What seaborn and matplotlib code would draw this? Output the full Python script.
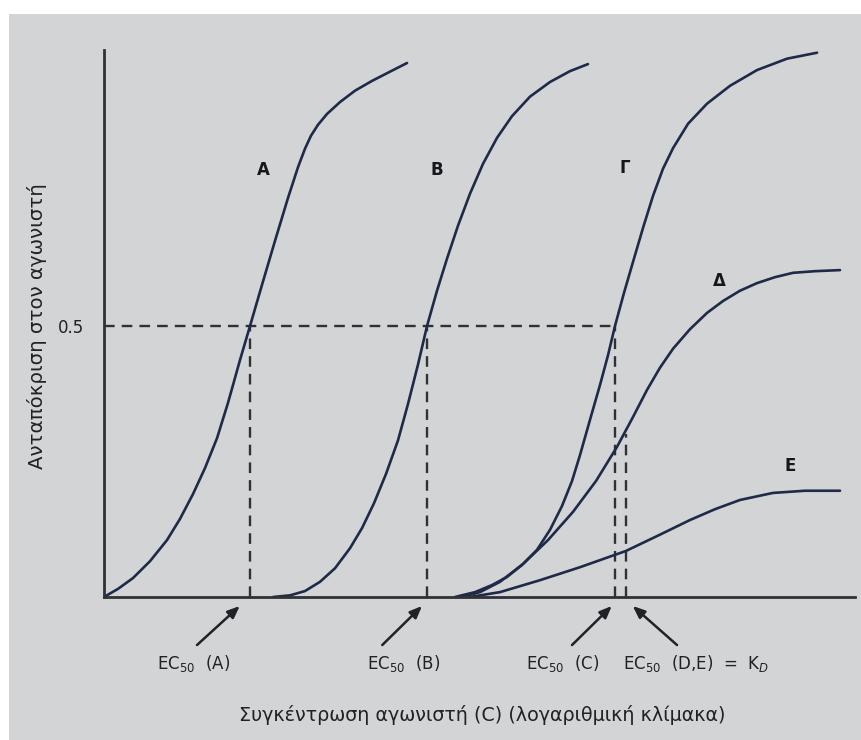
import matplotlib
matplotlib.use("Agg")
import matplotlib.pyplot as plt
import seaborn as sns
import pandas as pd
from matplotlib.patches import Rectangle

# ---------------- data ----------------
# x: log concentration (arbitrary units), y: fraction of maximal response
A_x = [0.0, 0.187, 0.387, 0.613, 0.84, 1.013, 1.187, 1.347, 1.507, 1.653, 1.813, 1.947,
       2.107, 2.28, 2.453, 2.587, 2.68, 2.76, 2.853, 2.973, 3.147, 3.347, 3.573, 3.813, 4.04]
A_y = [0.0, 0.015, 0.035, 0.066, 0.105, 0.144, 0.190, 0.238, 0.293, 0.358, 0.437, 0.500,
       0.576, 0.657, 0.736, 0.793, 0.827, 0.851, 0.871, 0.891, 0.913, 0.934, 0.952, 0.969, 0.985]

B_x = [2.253, 2.48, 2.68, 2.88, 3.08, 3.28, 3.44, 3.6, 3.76, 3.92, 4.053, 4.187, 4.307,
       4.44, 4.573, 4.72, 4.88, 5.053, 5.24, 5.44, 5.68, 5.947, 6.213, 6.453]
B_y = [0.0, 0.003, 0.011, 0.028, 0.053, 0.090, 0.127, 0.173, 0.227, 0.289, 0.356, 0.429, 0.500,
       0.565, 0.624, 0.685, 0.744, 0.799, 0.847, 0.887, 0.923, 0.950, 0.970, 0.983]

G_x = [4.68, 4.947, 5.173, 5.373, 5.573, 5.773, 5.947, 6.107, 6.24, 6.347, 6.48, 6.613, 6.72,
       6.813, 6.933, 7.053, 7.187, 7.32, 7.453, 7.587, 7.787, 8.04, 8.347, 8.707, 9.107, 9.507]
G_y = [0.0, 0.009, 0.022, 0.037, 0.059, 0.087, 0.124, 0.168, 0.214, 0.262, 0.327, 0.391, 0.446,
       0.500, 0.561, 0.618, 0.681, 0.740, 0.790, 0.828, 0.873, 0.910, 0.943, 0.972, 0.993, 1.004]

D_x = [4.773, 5.013, 5.28, 5.587, 5.92, 6.253, 6.56, 6.84, 7.053, 7.24, 7.413, 7.587, 7.813,
       8.04, 8.253, 8.48, 8.707, 8.947, 9.187, 9.48, 9.813]
D_y = [0.0, 0.009, 0.028, 0.061, 0.105, 0.157, 0.214, 0.277, 0.332, 0.382, 0.423, 0.458, 0.494,
       0.524, 0.546, 0.565, 0.579, 0.590, 0.598, 0.601, 0.603]

E_x = [4.88, 5.28, 5.813, 6.347, 6.96, 7.413, 7.813, 8.147, 8.48, 8.92, 9.347, 9.813]
E_y = [0.0, 0.009, 0.031, 0.055, 0.085, 0.115, 0.142, 0.162, 0.179, 0.192, 0.196, 0.196]

curve_names = ["A", "B", "Γ", "Δ", "E"]

ec50_x = [1.947, 4.307, 6.813, 6.96]       # EC50 positions (A, B, C, D/E)
ec50_y = [0.5, 0.5, 0.5, 0.30]             # half-maximal responses
ec50_labels = ["EC$_{50}$  (A)", "EC$_{50}$  (B)", "EC$_{50}$  (C)", "EC$_{50}$  (D,E)  =  K$_{D}$"]

ytick_vals = [0.5]
ytick_labels = ["0.5"]

# ---------------- build long table ----------------
rows = []
for name, xs, ys in zip(curve_names, [A_x, B_x, G_x, D_x, E_x], [A_y, B_y, G_y, D_y, E_y]):
    for x, y in zip(xs, ys):
        rows.append({"curve": name, "x": x, "y": y})
df = pd.DataFrame(rows)

# ---------------- figure ----------------
sns.set_theme(style="white")
plt.rcParams["font.family"] = ["DejaVu Sans"]

W, H = 861, 740
fig = plt.figure(figsize=(W / 100, H / 100), dpi=100, facecolor="white")
bg = Rectangle((9 / W, 0), 1, 1 - 14 / H, transform=fig.transFigure,
               facecolor="#d3d4d6", edgecolor="none", zorder=-10)
fig.add_artist(bg)

ax = fig.add_axes([104 / W, (H - 597) / H, (855 - 104) / W, (597 - 50) / H])
ax.set_zorder(5)
ax.set_facecolor("none")

curve_col = "#1f2a48"
axis_col = "#2e3136"
sns.lineplot(data=df, x="x", y="y", hue="curve", palette=[curve_col] * 5,
             legend=False, linewidth=1.9, ax=ax, estimator=None, sort=False)
for ln in ax.lines:
    ln.set_solid_joinstyle("round")
    ln.set_solid_capstyle("round")

ax.set_xlim(0, 10.013)
ax.set_ylim(0, 1.009)

# dashed guides
ax.plot([0, ec50_x[2]], [0.5, 0.5], color=axis_col, lw=1.7, ls=(0, (4.5, 3)), zorder=1)
for ex, ey in zip(ec50_x, ec50_y):
    ax.plot([ex, ex], [0, ey], color=axis_col, lw=1.7, ls=(0, (4.5, 3)), zorder=1)

# curve letters
letter_pos = [(2.13, 0.788), (4.44, 0.788), (6.95, 0.792), (8.2, 0.583), (9.15, 0.242)]
for name, (lx, ly) in zip(curve_names, letter_pos):
    ax.text(lx, ly, name, fontsize=12, fontweight="bold", color="#15171c",
            ha="center", va="center")

# spines & ticks
for s in ["top", "right"]:
    ax.spines[s].set_visible(False)
for s in ["left", "bottom"]:
    ax.spines[s].set_color(axis_col)
    ax.spines[s].set_linewidth(2)
ax.set_xticks([])
ax.set_yticks(ytick_vals)
ax.set_yticklabels(ytick_labels)
ax.tick_params(axis="y", length=0, pad=14, labelsize=12, labelcolor="#1f2226")
ax.set_xlabel("")
ax.set_ylabel("")

# EC50 annotations
heads = [1.81, 4.24, 6.77, 7.05]
tails = [1.24, 3.71, 6.24, 7.64]
text_x = [1.19, 4.0, 6.12, 7.9]
for hx, tx, lx, lab in zip(heads, tails, text_x, ec50_labels):
    ax.annotate("", xy=(hx, -0.0166), xytext=(tx, -0.0886),
                xycoords="data", textcoords="data", annotation_clip=False,
                arrowprops=dict(arrowstyle="-|>,head_length=0.6,head_width=0.25",
                                color="#1f2226", lw=1.8, shrinkA=0, shrinkB=0))
    ax.text(lx, -0.122, lab, fontsize=12, color="#1f2226", ha="center", va="center",
            clip_on=False)

fig.text(482 / W, 1 - 715 / H, "Συγκέντρωση αγωνιστή (C) (λογαριθμική κλίμακα)",
         fontsize=13.8, color="#1f2226", ha="center", va="center")
fig.text(37 / W, 1 - 326 / H, "Ανταπόκριση στον αγωνιστή", fontsize=14.2,
         color="#1f2226", ha="center", va="center", rotation=90)

fig.savefig("out.png", dpi=100, facecolor=fig.get_facecolor())
